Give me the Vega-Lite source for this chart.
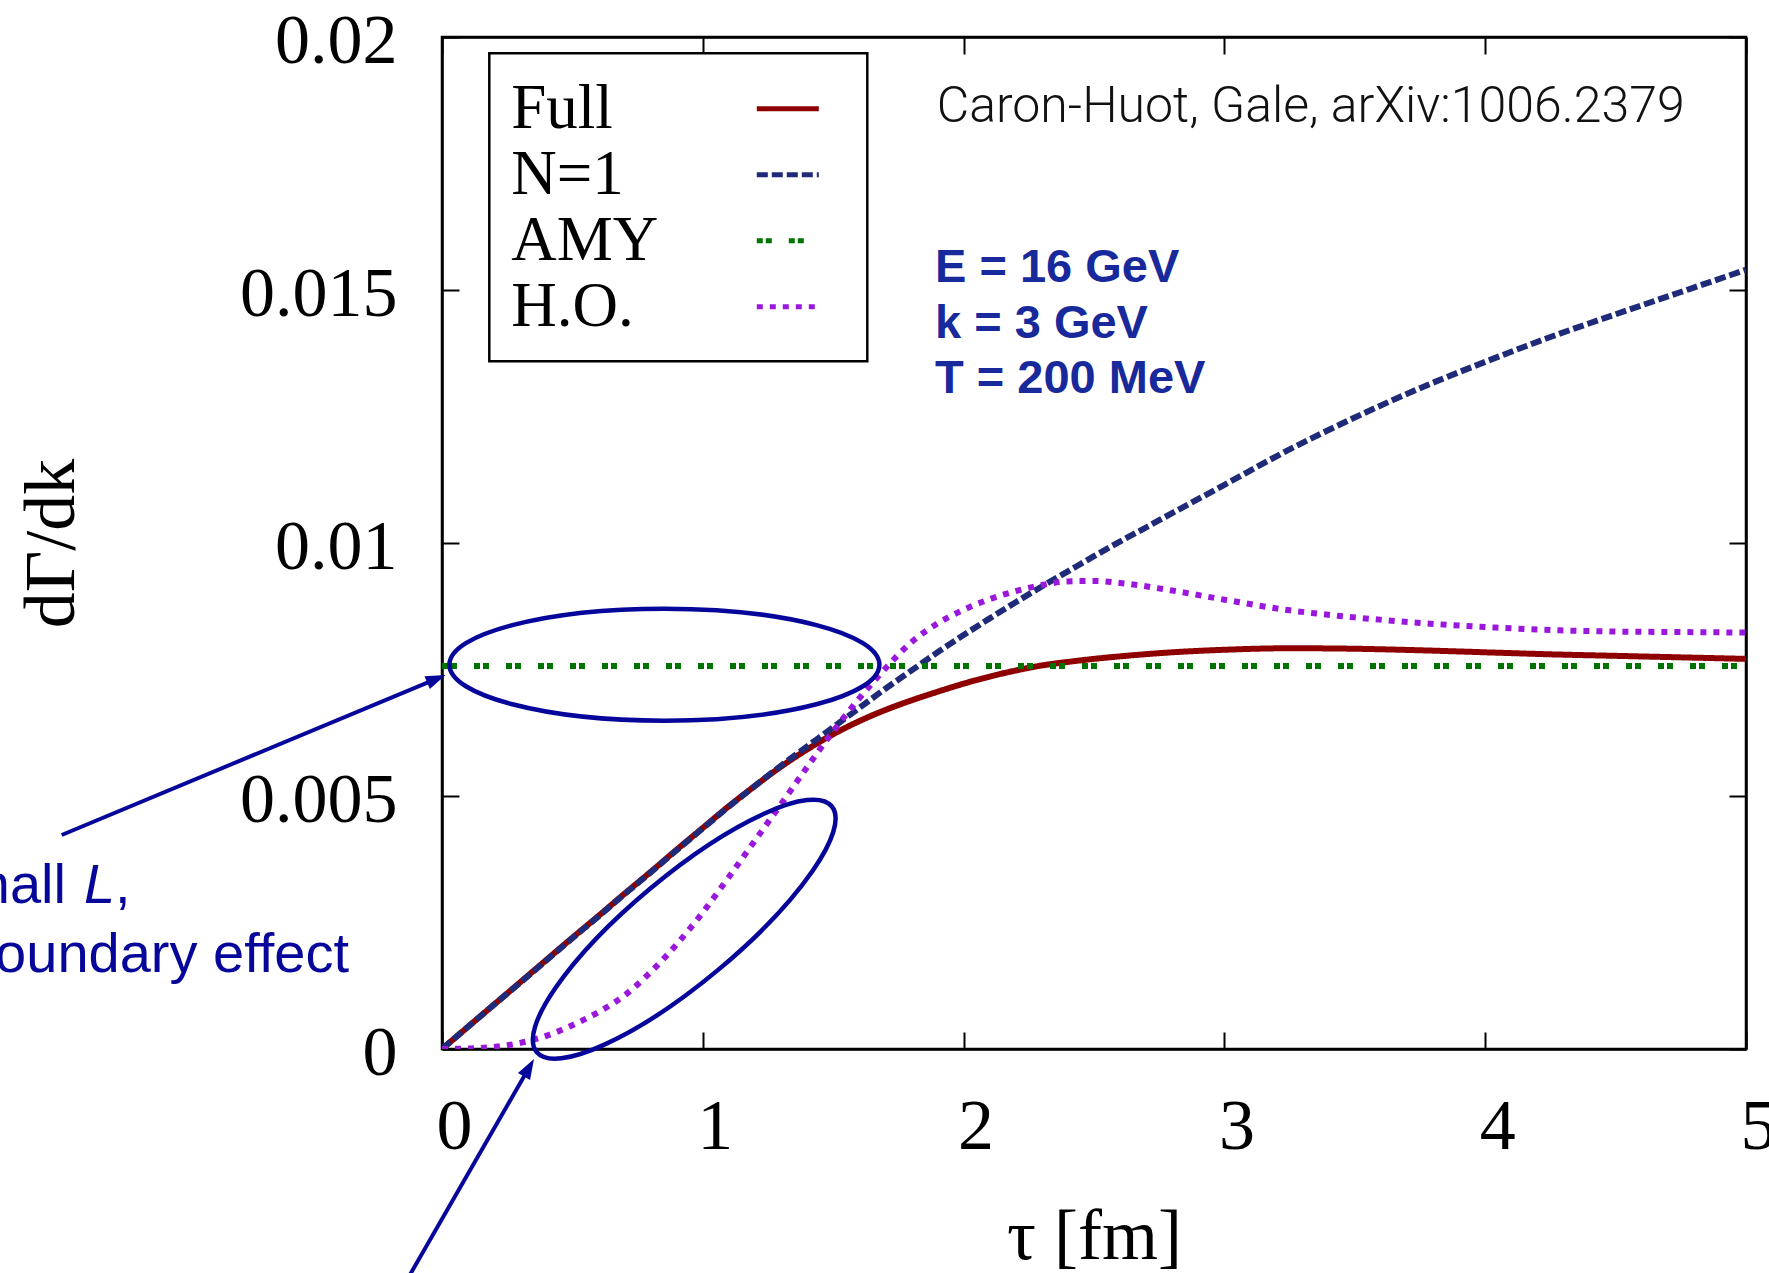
{
  "$schema": "https://vega.github.io/schema/vega-lite/v6.json",
  "width": 1304,
  "height": 1012,
  "autosize": "none",
  "padding": {"left": 442, "top": 37, "right": 23, "bottom": 224},
  "background": "white",
  "config": {
    "view": {"stroke": "black", "strokeWidth": 2.5},
    "legend": {
      "orient": "none",
      "legendX": 47.3,
      "legendY": 16.3,
      "padding": 22,
      "strokeColor": "black",
      "strokeWidth": 2.5,
      "fillColor": "white",
      "symbolType": "stroke",
      "symbolSize": 3844,
      "symbolStrokeWidth": 5,
      "symbolOffset": 243,
      "labelOffset": -310,
      "rowPadding": 0,
      "labelFont": "Liberation Serif",
      "labelFontSize": 63,
      "labelColor": "black",
      "labelLimit": 400,
      "titleOrient": "right",
      "titlePadding": 16,
      "titleFontSize": 10
    }
  },
  "datasets": {
    "curves": [
      {"series": "Full", "t": 0, "v": 0},
      {"series": "Full", "t": 0.1, "v": 0.00044},
      {"series": "Full", "t": 0.2, "v": 0.00088},
      {"series": "Full", "t": 0.3, "v": 0.00132},
      {"series": "Full", "t": 0.4, "v": 0.00176},
      {"series": "Full", "t": 0.5, "v": 0.0022},
      {"series": "Full", "t": 0.6, "v": 0.00263},
      {"series": "Full", "t": 0.7, "v": 0.00307},
      {"series": "Full", "t": 0.8, "v": 0.0035},
      {"series": "Full", "t": 0.9, "v": 0.00394},
      {"series": "Full", "t": 1.0, "v": 0.00437},
      {"series": "Full", "t": 1.1, "v": 0.0048},
      {"series": "Full", "t": 1.2, "v": 0.0052},
      {"series": "Full", "t": 1.3, "v": 0.00558},
      {"series": "Full", "t": 1.4, "v": 0.00592},
      {"series": "Full", "t": 1.5, "v": 0.00622},
      {"series": "Full", "t": 1.6, "v": 0.00648},
      {"series": "Full", "t": 1.7, "v": 0.0067},
      {"series": "Full", "t": 1.8, "v": 0.00689},
      {"series": "Full", "t": 1.9, "v": 0.00706},
      {"series": "Full", "t": 2.0, "v": 0.00722},
      {"series": "Full", "t": 2.1, "v": 0.00736},
      {"series": "Full", "t": 2.2, "v": 0.00748},
      {"series": "Full", "t": 2.3, "v": 0.00758},
      {"series": "Full", "t": 2.4, "v": 0.00765},
      {"series": "Full", "t": 2.5, "v": 0.00771},
      {"series": "Full", "t": 2.6, "v": 0.00776},
      {"series": "Full", "t": 2.8, "v": 0.00784},
      {"series": "Full", "t": 3.0, "v": 0.00789},
      {"series": "Full", "t": 3.25, "v": 0.00792},
      {"series": "Full", "t": 3.5, "v": 0.00791},
      {"series": "Full", "t": 3.75, "v": 0.00788},
      {"series": "Full", "t": 4.0, "v": 0.00784},
      {"series": "Full", "t": 4.25, "v": 0.0078},
      {"series": "Full", "t": 4.5, "v": 0.00777},
      {"series": "Full", "t": 4.75, "v": 0.00774},
      {"series": "Full", "t": 5.0, "v": 0.00771},
      {"series": "N=1", "t": 0, "v": 0},
      {"series": "N=1", "t": 0.1, "v": 0.00044},
      {"series": "N=1", "t": 0.2, "v": 0.00088},
      {"series": "N=1", "t": 0.3, "v": 0.00131},
      {"series": "N=1", "t": 0.4, "v": 0.00175},
      {"series": "N=1", "t": 0.5, "v": 0.00219},
      {"series": "N=1", "t": 0.6, "v": 0.00262},
      {"series": "N=1", "t": 0.7, "v": 0.00306},
      {"series": "N=1", "t": 0.8, "v": 0.00349},
      {"series": "N=1", "t": 0.9, "v": 0.00393},
      {"series": "N=1", "t": 1.0, "v": 0.00436},
      {"series": "N=1", "t": 1.1, "v": 0.00479},
      {"series": "N=1", "t": 1.2, "v": 0.0052},
      {"series": "N=1", "t": 1.3, "v": 0.0056},
      {"series": "N=1", "t": 1.4, "v": 0.00598},
      {"series": "N=1", "t": 1.5, "v": 0.00636},
      {"series": "N=1", "t": 1.6, "v": 0.00674},
      {"series": "N=1", "t": 1.7, "v": 0.00712},
      {"series": "N=1", "t": 1.8, "v": 0.00748},
      {"series": "N=1", "t": 1.9, "v": 0.00784},
      {"series": "N=1", "t": 2.0, "v": 0.00818},
      {"series": "N=1", "t": 2.1, "v": 0.00851},
      {"series": "N=1", "t": 2.2, "v": 0.00883},
      {"series": "N=1", "t": 2.3, "v": 0.00914},
      {"series": "N=1", "t": 2.4, "v": 0.00944},
      {"series": "N=1", "t": 2.5, "v": 0.00974},
      {"series": "N=1", "t": 2.75, "v": 0.01045},
      {"series": "N=1", "t": 3.0, "v": 0.01115},
      {"series": "N=1", "t": 3.25, "v": 0.01185},
      {"series": "N=1", "t": 3.5, "v": 0.01248},
      {"series": "N=1", "t": 3.75, "v": 0.01306},
      {"series": "N=1", "t": 4.0, "v": 0.01358},
      {"series": "N=1", "t": 4.25, "v": 0.01407},
      {"series": "N=1", "t": 4.5, "v": 0.01452},
      {"series": "N=1", "t": 4.75, "v": 0.01496},
      {"series": "N=1", "t": 5.0, "v": 0.0154},
      {"series": "AMY", "t": 0, "v": 0.00757},
      {"series": "AMY", "t": 5.0, "v": 0.00757},
      {"series": "H.O.", "t": 0, "v": 0},
      {"series": "H.O.", "t": 0.1, "v": 0.00001},
      {"series": "H.O.", "t": 0.2, "v": 0.00004},
      {"series": "H.O.", "t": 0.3, "v": 0.00012},
      {"series": "H.O.", "t": 0.4, "v": 0.00026},
      {"series": "H.O.", "t": 0.5, "v": 0.00047},
      {"series": "H.O.", "t": 0.6, "v": 0.00073},
      {"series": "H.O.", "t": 0.7, "v": 0.00106},
      {"series": "H.O.", "t": 0.8, "v": 0.00152},
      {"series": "H.O.", "t": 0.9, "v": 0.00207},
      {"series": "H.O.", "t": 1.0, "v": 0.0027},
      {"series": "H.O.", "t": 1.1, "v": 0.0034},
      {"series": "H.O.", "t": 1.2, "v": 0.00412},
      {"series": "H.O.", "t": 1.3, "v": 0.00484},
      {"series": "H.O.", "t": 1.4, "v": 0.00557},
      {"series": "H.O.", "t": 1.5, "v": 0.00628},
      {"series": "H.O.", "t": 1.6, "v": 0.00693},
      {"series": "H.O.", "t": 1.7, "v": 0.00752},
      {"series": "H.O.", "t": 1.8, "v": 0.00804},
      {"series": "H.O.", "t": 1.9, "v": 0.00841},
      {"series": "H.O.", "t": 2.0, "v": 0.00868},
      {"series": "H.O.", "t": 2.1, "v": 0.00889},
      {"series": "H.O.", "t": 2.2, "v": 0.00905},
      {"series": "H.O.", "t": 2.3, "v": 0.00917},
      {"series": "H.O.", "t": 2.4, "v": 0.00924},
      {"series": "H.O.", "t": 2.5, "v": 0.00925},
      {"series": "H.O.", "t": 2.6, "v": 0.00921},
      {"series": "H.O.", "t": 2.8, "v": 0.00906},
      {"series": "H.O.", "t": 3.0, "v": 0.00888},
      {"series": "H.O.", "t": 3.25, "v": 0.00867},
      {"series": "H.O.", "t": 3.5, "v": 0.00853},
      {"series": "H.O.", "t": 3.75, "v": 0.00842},
      {"series": "H.O.", "t": 4.0, "v": 0.00834},
      {"series": "H.O.", "t": 4.25, "v": 0.00828},
      {"series": "H.O.", "t": 4.5, "v": 0.00825},
      {"series": "H.O.", "t": 4.75, "v": 0.00824},
      {"series": "H.O.", "t": 5.0, "v": 0.00823}
    ]
  },
  "layer": [
    {
      "data": {"name": "curves"},
      "mark": {"type": "line", "strokeWidth": 6, "strokeCap": "butt", "interpolate": "monotone", "clip": true},
      "encoding": {
        "x": {
          "field": "t", "type": "quantitative",
          "scale": {"domain": [0, 5], "nice": false, "zero": false},
          "axis": {
            "orient": "bottom", "values": [0, 1, 2, 3, 4, 5], "format": "d", "grid": false,
            "title": "τ [fm]", "titleFont": "Liberation Serif", "titleFontSize": 72, "titleFontWeight": "normal", "titleColor": "black",
            "titleX": 652, "titleY": 209, "titleBaseline": "alphabetic", "titleAlign": "center", "titleAnchor": null,
            "labelFont": "Liberation Serif", "labelFontSize": 72, "labelColor": "black", "labelBaseline": "alphabetic",
            "labelPadding": 116, "labelOffset": 12, "labelFlush": false, "labelOverlap": false, "labelBound": false,
            "tickSize": -17, "tickWidth": 2, "tickColor": "black", "domainColor": "black", "domainWidth": 2.5
          }
        },
        "y": {
          "field": "v", "type": "quantitative",
          "scale": {"domain": [0, 0.02], "nice": false, "zero": false},
          "axis": {
            "orient": "left", "values": [0, 0.005, 0.01, 0.015, 0.02], "format": "~g", "grid": false,
            "title": "dΓ/dk", "titleFont": "Liberation Serif", "titleFontSize": 72, "titleFontWeight": "normal", "titleColor": "black",
            "titleX": -391, "titleY": 506, "titleAngle": -90, "titleAlign": "center", "titleBaseline": "middle", "titleAnchor": null,
            "labelFont": "Liberation Serif", "labelFontSize": 70, "labelColor": "black", "labelOffset": 4,
            "labelPadding": 62, "labelFlush": false, "labelOverlap": false, "labelBound": false,
            "tickSize": -17, "tickWidth": 2, "tickColor": "black", "domainColor": "black", "domainWidth": 2.5
          }
        },
        "color": {
          "field": "series", "type": "nominal",
          "scale": {"domain": ["Full", "N=1", "AMY", "H.O."], "range": ["#8e0000", "#1f2a78", "#007400", "#9a18dc"]},
          "legend": {"title": " ", "direction": "vertical"}
        },
        "strokeDash": {
          "field": "series", "type": "nominal",
          "scale": {"domain": ["Full", "N=1", "AMY", "H.O."], "range": [[1, 0], [11, 4], [6, 3, 6, 17], [6, 7]]},
          "legend": {"title": " ", "direction": "vertical"}
        }
      }
    },
    {
      "data": {"values": [{"t": 1.8968, "v": 0.018326, "label": "Caron-Huot, Gale, arXiv:1006.2379"}]},
      "mark": {"type": "text", "align": "left", "baseline": "alphabetic", "font": "Roboto", "fontWeight": 300, "fontSize": 50, "color": "#111111"},
      "encoding": {
        "x": {"field": "t", "type": "quantitative", "scale": {"domain": [0, 5]},
          "axis": {"orient": "top", "values": [0, 1, 2, 3, 4, 5], "labels": false, "title": null, "grid": false,
            "tickSize": -17, "tickWidth": 2, "tickColor": "black", "domainColor": "black", "domainWidth": 2.5}},
        "y": {"field": "v", "type": "quantitative", "scale": {"domain": [0, 0.02]},
          "axis": {"orient": "right", "values": [0, 0.005, 0.01, 0.015, 0.02], "labels": false, "title": null, "grid": false,
            "tickSize": -17, "tickWidth": 2, "tickColor": "black", "domainColor": "black", "domainWidth": 2.5}},
        "text": {"field": "label"}
      }
    },
    {
      "data": {"values": [
        {"t": 1.8903, "v": 0.015164, "label": "E = 16 GeV"},
        {"t": 1.8903, "v": 0.014057, "label": "k = 3 GeV"},
        {"t": 1.8903, "v": 0.012958, "label": "T = 200 MeV"}
      ]},
      "mark": {"type": "text", "align": "left", "baseline": "alphabetic", "font": "Liberation Sans", "fontWeight": "bold", "fontSize": 47, "color": "#17299b"},
      "encoding": {
        "x": {"field": "t", "type": "quantitative", "scale": {"domain": [0, 5]}, "axis": null},
        "y": {"field": "v", "type": "quantitative", "scale": {"domain": [0, 0.02]}, "axis": null},
        "text": {"field": "label"}
      }
    },
    {
      "data": {"values": [
        {"t": -1.4417, "v": 0.002891, "label": "Small"},
        {"t": -0.3566, "v": 0.001528, "label": "boundary effect"}
      ]},
      "mark": {"type": "text", "align": "right", "baseline": "alphabetic", "font": "Liberation Sans", "fontSize": 56, "color": "#06069a"},
      "encoding": {
        "x": {"field": "t", "type": "quantitative", "scale": {"domain": [0, 5]}, "axis": null},
        "y": {"field": "v", "type": "quantitative", "scale": {"domain": [0, 0.02]}, "axis": null},
        "text": {"field": "label"}
      }
    },
    {
      "data": {"values": [{"t": -1.3727, "v": 0.002891, "label": "L"}]},
      "mark": {"type": "text", "align": "left", "baseline": "alphabetic", "font": "Liberation Sans", "fontStyle": "italic", "fontSize": 56, "color": "#06069a"},
      "encoding": {
        "x": {"field": "t", "type": "quantitative", "scale": {"domain": [0, 5]}, "axis": null},
        "y": {"field": "v", "type": "quantitative", "scale": {"domain": [0, 0.02]}, "axis": null},
        "text": {"field": "label"}
      }
    },
    {
      "data": {"values": [{"t": -1.2538, "v": 0.002891, "label": ","}]},
      "mark": {"type": "text", "align": "left", "baseline": "alphabetic", "font": "Liberation Sans", "fontSize": 56, "color": "#06069a"},
      "encoding": {
        "x": {"field": "t", "type": "quantitative", "scale": {"domain": [0, 5]}, "axis": null},
        "y": {"field": "v", "type": "quantitative", "scale": {"domain": [0, 0.02]}, "axis": null},
        "text": {"field": "label"}
      }
    },
    {
      "data": {"values": [{"t": 0.8528, "v": 0.007595}]},
      "mark": {"type": "point", "filled": false, "opacity": 1, "stroke": "#06069a", "strokeWidth": 4.5, "size": 184900,
        "shape": "M-1,0C-1,-0.1439,-0.5523,-0.2605,0,-0.2605C0.5523,-0.2605,1,-0.1439,1,0C1,0.1439,0.5523,0.2605,0,0.2605C-0.5523,0.2605,-1,0.1439,-1,0Z"},
      "encoding": {
        "x": {"field": "t", "type": "quantitative", "scale": {"domain": [0, 5]}, "axis": null},
        "y": {"field": "v", "type": "quantitative", "scale": {"domain": [0, 0.02]}, "axis": null}
      }
    },
    {
      "data": {"values": [{"t": 0.9287, "v": 0.002368}]},
      "mark": {"type": "point", "filled": false, "opacity": 1, "stroke": "#06069a", "strokeWidth": 4.5, "size": 147456, "angle": -39.8,
        "shape": "M-1,0C-1,-0.1524,-0.5523,-0.276,0,-0.276C0.5523,-0.276,1,-0.1524,1,0C1,0.1524,0.5523,0.276,0,0.276C-0.5523,0.276,-1,0.1524,-1,0Z"},
      "encoding": {
        "x": {"field": "t", "type": "quantitative", "scale": {"domain": [0, 5]}, "axis": null},
        "y": {"field": "v", "type": "quantitative", "scale": {"domain": [0, 0.02]}, "axis": null}
      }
    },
    {
      "data": {"values": [
        {"t": -1.4582, "v": 0.004229, "t2": -0.0215, "v2": 0.007316},
        {"t": -0.1572, "v": -0.004769, "t2": 0.3336, "v2": -0.00037}
      ]},
      "mark": {"type": "rule", "color": "#06069a", "strokeWidth": 4},
      "encoding": {
        "x": {"field": "t", "type": "quantitative", "scale": {"domain": [0, 5]}, "axis": null},
        "y": {"field": "v", "type": "quantitative", "scale": {"domain": [0, 0.02]}, "axis": null},
        "x2": {"field": "t2"},
        "y2": {"field": "v2"}
      }
    },
    {
      "data": {"values": [{"t": -0.0215, "v": 0.007316}]},
      "mark": {"type": "point", "filled": true, "opacity": 1, "color": "#06069a", "strokeWidth": 0, "size": 400, "angle": -22.6,
        "shape": "M1,0L-1,-0.7L-1,0.7Z"},
      "encoding": {
        "x": {"field": "t", "type": "quantitative", "scale": {"domain": [0, 5]}, "axis": null},
        "y": {"field": "v", "type": "quantitative", "scale": {"domain": [0, 0.02]}, "axis": null}
      }
    },
    {
      "data": {"values": [{"t": 0.3336, "v": -0.00037}]},
      "mark": {"type": "point", "filled": true, "opacity": 1, "color": "#06069a", "strokeWidth": 0, "size": 400, "angle": -60.1,
        "shape": "M1,0L-1,-0.7L-1,0.7Z"},
      "encoding": {
        "x": {"field": "t", "type": "quantitative", "scale": {"domain": [0, 5]}, "axis": null},
        "y": {"field": "v", "type": "quantitative", "scale": {"domain": [0, 0.02]}, "axis": null}
      }
    }
  ],
  "resolve": {"axis": {"x": "independent", "y": "independent"}}
}
